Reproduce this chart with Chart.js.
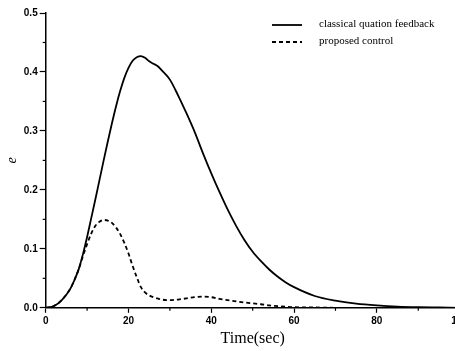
<!DOCTYPE html>
<html>
<head>
<meta charset="utf-8">
<script src="https://cdn.jsdelivr.net/npm/chart.js@4/dist/chart.umd.min.js"></script>
<style>
  html, body { margin: 0; padding: 0; background: #fff; overflow: hidden; }
  .wrap { position: relative; width: 470px; height: 351px; }
</style>
</head>
<body>
<div class="wrap"><canvas id="myChart"></canvas></div>
<script>
// time points (sec)
const times = [0, 2, 4, 6, 7, 8, 9, 10, 11, 12, 13, 14, 15, 16, 17, 18, 19, 20, 21, 22, 23, 24, 25, 26, 27, 28,
  30, 32, 34, 36, 38, 40, 42, 44, 46, 48, 50, 52, 54, 56, 58, 60, 65, 70, 75, 80, 85, 90, 95, 100];

// classical quation feedback
const classicalE = [0, 0.003, 0.014, 0.033, 0.048, 0.066, 0.091, 0.12, 0.152, 0.184, 0.217, 0.25, 0.282, 0.313, 0.342,
  0.368, 0.39, 0.407, 0.419, 0.425, 0.427, 0.424, 0.418, 0.414, 0.41, 0.403,
  0.387, 0.36, 0.33, 0.298, 0.262, 0.228, 0.196, 0.166, 0.139, 0.115, 0.095, 0.079, 0.065, 0.053, 0.043,
  0.035, 0.02, 0.012, 0.007, 0.004, 0.002, 0.001, 0.0005, 0];

// proposed control
const proposedE = [0, 0.003, 0.014, 0.033, 0.048, 0.066, 0.088, 0.108, 0.126, 0.139, 0.146, 0.149, 0.148, 0.144, 0.136,
  0.125, 0.11, 0.092, 0.071, 0.052, 0.035, 0.026, 0.021, 0.018, 0.016, 0.014,
  0.013, 0.014, 0.016, 0.018, 0.019, 0.018, 0.015, 0.013, 0.011, 0.009, 0.0075, 0.006, 0.004, 0.003, 0.002,
  0.001, 0.0005, 0, 0, 0, 0, 0, 0, 0];

const seriesNames = ["classical quation feedback", "proposed control"];
const xTicks = [0, 20, 40, 60, 80, 100];
const yTicks = [0.0, 0.1, 0.2, 0.3, 0.4, 0.5];

const toPoints = (vals) => times.map((t, i) => ({ x: t, y: vals[i] }));

// minor ticks + legend drawn on the canvas
const extras = {
  id: "extras",
  afterDraw(chart) {
    const c = chart.ctx;
    const xs = chart.scales.x;
    const ys = chart.scales.y;
    c.save();
    c.strokeStyle = "#000";
    c.lineWidth = 1.2;
    // minor ticks
    for (let v = 10; v < 100; v += 20) {
      const px = xs.getPixelForValue(v);
      c.beginPath();
      c.moveTo(px, xs.top);
      c.lineTo(px, xs.top + 3);
      c.stroke();
    }
    for (let v = 0.05; v < 0.5; v += 0.1) {
      const py = ys.getPixelForValue(v);
      c.beginPath();
      c.moveTo(ys.right, py);
      c.lineTo(ys.right - 3, py);
      c.stroke();
    }
    // legend
    const lx = 272, ly = [25, 42];
    chart.data.datasets.forEach((ds, i) => {
      c.lineWidth = 1.8;
      c.setLineDash(ds.borderDash || []);
      c.beginPath();
      c.moveTo(lx, ly[i]);
      c.lineTo(lx + 30, ly[i]);
      c.stroke();
      c.setLineDash([]);
      c.fillStyle = "#000";
      c.font = "11px 'Liberation Serif', 'Times New Roman', serif";
      c.textBaseline = "middle";
      c.fillText(ds.label, lx + 47, ly[i] - 1);
    });
    c.restore();
  },
};

const ctx = document.getElementById("myChart");
new Chart(ctx, {
  type: "line",
  data: {
    datasets: [
      {
        label: seriesNames[0],
        data: toPoints(classicalE),
        borderColor: "#000",
        borderWidth: 1.8,
        pointRadius: 0,
        cubicInterpolationMode: "monotone",
      },
      {
        label: seriesNames[1],
        data: toPoints(proposedE),
        borderColor: "#000",
        borderWidth: 1.8,
        borderDash: [4, 3],
        pointRadius: 0,
        cubicInterpolationMode: "monotone",
      },
    ],
  },
  options: {
    responsive: true,
    maintainAspectRatio: false,
    animation: false,
    layout: { padding: { top: 13, right: 0, left: 1, bottom: 3 } },
    plugins: { legend: { display: false }, tooltip: { enabled: false } },
    scales: {
      x: {
        type: "linear",
        min: 0,
        max: 100,
        afterBuildTicks: (s) => { s.ticks = xTicks.map((v) => ({ value: v })); },
        ticks: {
          color: "#000",
          padding: 2,
          maxRotation: 0,
          font: { family: "'Liberation Sans', Arial, sans-serif", size: 10, weight: "bold" },
        },
        grid: { drawOnChartArea: false, drawTicks: true, tickLength: 5, tickColor: "#000", tickWidth: 1.2 },
        border: { color: "#000", width: 1.5 },
        title: {
          display: true,
          text: "Time(sec)",
          color: "#000",
          padding: { top: 0, bottom: 0 },
          font: { family: "'Liberation Serif', 'Times New Roman', serif", size: 16 },
        },
      },
      y: {
        min: 0,
        max: 0.5,
        afterBuildTicks: (s) => { s.ticks = yTicks.map((v) => ({ value: v })); },
        ticks: {
          color: "#000",
          padding: 2,
          callback: (v) => Number(v).toFixed(1),
          font: { family: "'Liberation Sans', Arial, sans-serif", size: 10, weight: "bold" },
        },
        grid: { drawOnChartArea: false, drawTicks: true, tickLength: 6, tickColor: "#000", tickWidth: 1.2 },
        border: { color: "#000", width: 1.5 },
        title: {
          display: true,
          text: "e",
          color: "#000",
          padding: { top: 3, bottom: 1 },
          font: { family: "'Liberation Serif', 'Times New Roman', serif", size: 14, style: "italic" },
        },
      },
    },
  },
  plugins: [extras],
});
</script>
</body>
</html>
